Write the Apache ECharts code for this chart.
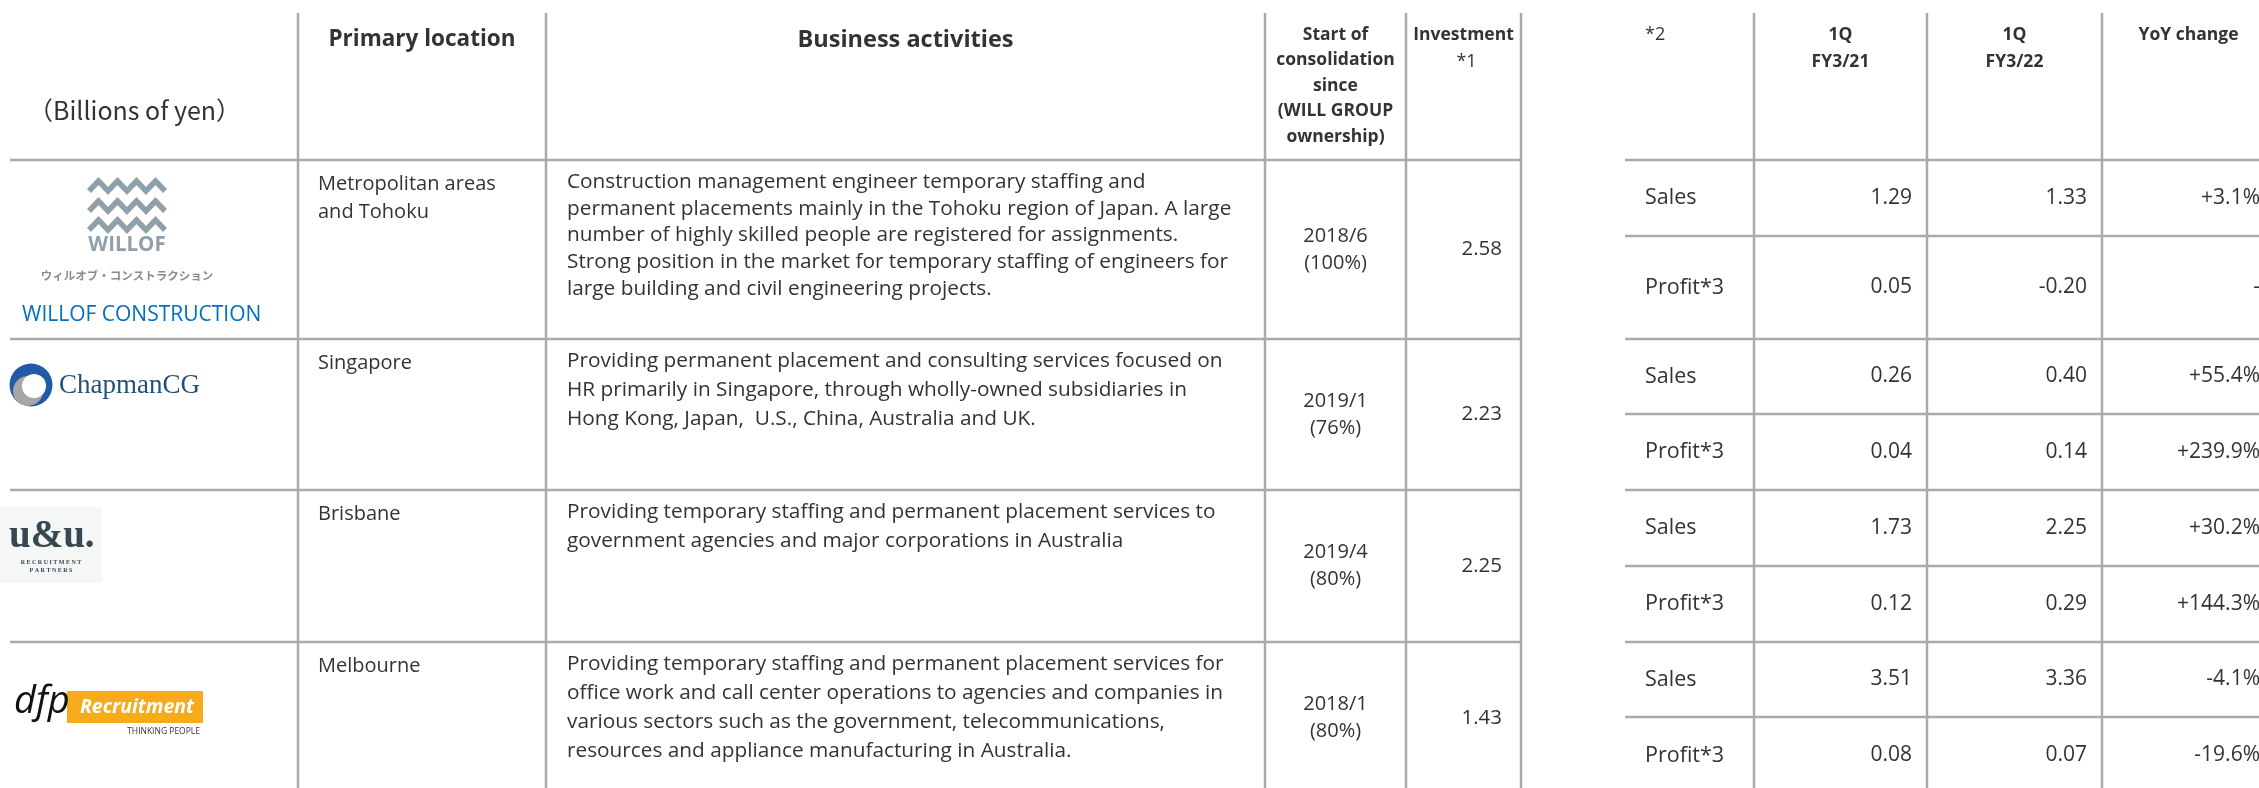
<!DOCTYPE html>
<html>
<head>
<meta charset="utf-8">
<script src="https://cdn.jsdelivr.net/npm/echarts@6/dist/echarts.min.js"></script>
<style>
  html, body { margin: 0; padding: 0; background: #fff; }
  #main { width: 2259px; height: 788px; }
</style>
</head>
<body>
<div id="main"></div>
<script>
// ---- table content ----
const companies = ['WILLOF CONSTRUCTION', 'ChapmanCG', 'u&u', 'dfp'];
const locations = ['Metropolitan areas\nand Tohoku', 'Singapore', 'Brisbane', 'Melbourne'];
const activities = [
  'Construction management engineer temporary staffing and\npermanent placements mainly in the Tohoku region of Japan. A large\nnumber of highly skilled people are registered for assignments.\nStrong position in the market for temporary staffing of engineers for\nlarge building and civil engineering projects.',
  'Providing permanent placement and consulting services focused on\nHR primarily in Singapore, through wholly-owned subsidiaries in\nHong Kong, Japan,  U.S., China, Australia and UK.',
  'Providing temporary staffing and permanent placement services to\ngovernment agencies and major corporations in Australia',
  'Providing temporary staffing and permanent placement services for\noffice work and call center operations to agencies and companies in\nvarious sectors such as the government, telecommunications,\nresources and appliance manufacturing in Australia.'
];
const consolidationStart = ['2018/6', '2019/1', '2019/4', '2018/1'];
const ownership = ['100%', '76%', '80%', '80%'];
const investment = [2.58, 2.23, 2.25, 1.43];

const leftHeaders = ['（Billions of yen）', 'Primary location', 'Business activities',
  'Start of\nconsolidation\nsince\n(WILL GROUP\nownership)', 'Investment'];
const investmentNote = '*1';
const rightHeaders = ['*2', '1Q\nFY3/21', '1Q\nFY3/22', 'YoY change'];

const metrics = ['Sales', 'Profit*3'];
const fy21 = [1.29, 0.05, 0.26, 0.04, 1.73, 0.12, 3.51, 0.08];
const fy22 = [1.33, -0.20, 0.40, 0.14, 2.25, 0.29, 3.36, 0.07];
const yoy = ['+3.1%', '-', '+55.4%', '+239.9%', '+30.2%', '+144.3%', '-4.1%', '-19.6%'];

// ---- layout (px on the hidden value axes) ----
const colEdges = [10, 298, 546, 1265, 1406, 1521];
const rowEdges = [13, 160, 339, 490, 642, 794];
const rColEdges = [1625, 1754, 1927, 2102, 2275];
const rRowEdges = [13, 160, 236, 339, 414, 490, 566, 642, 717, 794];
const activityLineHeight = [26.7, 29, 29, 29];

const FONT = '"Open Sans", "Noto Sans", sans-serif';
const TEXT = '#333333';
const RULE = '#aaaaaa';

function txt(p, text, size, o) {
  o = o || {};
  return {
    type: 'text',
    silent: true,
    style: {
      text: text,
      x: p[0],
      y: p[1],
      fill: o.fill || TEXT,
      fontSize: size,
      fontFamily: o.family || FONT,
      fontWeight: o.weight || 'normal',
      fontStyle: o.style || 'normal',
      align: o.align || 'left',
      verticalAlign: o.va || 'middle',
      lineHeight: o.lh || size * 1.3
    }
  };
}

function rule(a, b) {
  return {
    type: 'line', silent: true,
    shape: { x1: a[0], y1: a[1], x2: b[0], y2: b[1] },
    style: { stroke: RULE, lineWidth: 2.5 }
  };
}

// logos, drawn relative to the top-left of the first cell of each row
function logo(i, P) {
  const out = [];
  if (i === 0) {
    const waveColor = '#8fa0ab';
    [26, 46, 65].forEach(function (cy) {
      const pts = [];
      for (let k = 0; k <= 8; k++) {
        pts.push(P(79 + k * 9.5, cy + (k % 2 === 0 ? 5 : -5)));
      }
      out.push({ type: 'polyline', silent: true, shape: { points: pts },
        style: { stroke: waveColor, lineWidth: 5.5, fill: null } });
    });
    out.push(txt(P(117, 85), 'WILLOF', 20.5, { weight: 'bold', align: 'center', fill: waveColor }));
    out.push(txt(P(117, 116), 'ウィルオブ・コンストラクション', 11.5,
      { family: '"Noto Sans CJK JP", sans-serif', weight: 'bold', align: 'center', fill: '#8c8c8c' }));
    out.push(txt(P(12, 155), companies[0], 21, { fill: '#0070c0' }));
  } else if (i === 1) {
    const c = P(21, 46), g = P(18, 52), w = P(24, 47);
    out.push({ type: 'circle', silent: true, shape: { cx: c[0], cy: c[1], r: 21.5 }, style: { fill: '#1f5ba6' } });
    out.push({ type: 'circle', silent: true, shape: { cx: g[0], cy: g[1], r: 15 }, style: { fill: '#a6a6a6' } });
    out.push({ type: 'circle', silent: true, shape: { cx: w[0], cy: w[1], r: 12 }, style: { fill: '#ffffff' } });
    out.push(txt(P(49, 47), companies[1], 27, { family: '"Liberation Serif", serif', fill: '#24507a' }));
  } else if (i === 2) {
    const a = P(-10, 17), b = P(92, 93);
    out.push({ type: 'rect', silent: true, shape: { x: a[0], y: a[1], width: b[0] - a[0], height: b[1] - a[1] },
      style: { fill: '#f5f6f6' } });
    out.push(txt(P(-1, 47), 'u&u.', 39, { family: '"Liberation Serif", serif', weight: 'bold', fill: '#37474f' }));
    out.push(txt(P(41, 72), 'R E C R U I T M E N T', 6, { family: '"Liberation Serif", serif', weight: 'bold', align: 'center', fill: '#37474f' }));
    out.push(txt(P(41, 80), 'P A R T N E R S', 6, { family: '"Liberation Serif", serif', weight: 'bold', align: 'center', fill: '#37474f' }));
  } else {
    const a = P(57, 49), b = P(193, 81);
    out.push({ type: 'rect', silent: true, shape: { x: a[0], y: a[1], width: b[0] - a[0], height: b[1] - a[1] },
      style: { fill: '#f6ab1b' } });
    out.push(txt(P(4, 60), companies[3], 38, { style: 'italic', fill: '#111111' }));
    out.push(txt(P(127, 65), 'Recruitment', 19.5, { weight: 'bold', style: 'italic', align: 'center', fill: '#ffffff' }));
    out.push(txt(P(190, 90), 'THINKING PEOPLE', 8.5, { align: 'right', fill: '#333333' }));
  }
  return out;
}

const chart = echarts.init(document.getElementById('main'), null, { renderer: 'canvas' });

const option = {
  animation: false,
  backgroundColor: '#ffffff',
  grid: { left: 0, right: 0, top: 0, bottom: 0 },
  xAxis: { type: 'value', min: 0, max: 2259, show: false },
  yAxis: { type: 'value', min: 0, max: 788, inverse: true, show: false },
  series: [
    {
      // rules and header row
      type: 'custom',
      name: 'frame',
      clip: false,
      data: [[0, 0]],
      renderItem: function (params, api) {
        const P = function (x, y) { return api.coord([x, y]); };
        const kids = [];
        for (let r = 1; r < rowEdges.length - 1; r++) {
          kids.push(rule(P(colEdges[0], rowEdges[r]), P(colEdges[5], rowEdges[r])));
        }
        for (let c = 1; c < colEdges.length; c++) {
          kids.push(rule(P(colEdges[c], rowEdges[0]), P(colEdges[c], 788)));
        }
        for (let r = 1; r < rRowEdges.length - 1; r++) {
          kids.push(rule(P(rColEdges[0], rRowEdges[r]), P(rColEdges[4], rRowEdges[r])));
        }
        for (let c = 1; c < rColEdges.length; c++) {
          kids.push(rule(P(rColEdges[c], rRowEdges[0]), P(rColEdges[c], 788)));
        }
        const mid = function (e, c) { return (e[c] + e[c + 1]) / 2; };
        kids.push(txt(P(28, 110), leftHeaders[0], 25, { family: '"Noto Sans CJK JP", sans-serif' }));
        kids.push(txt(P(mid(colEdges, 1), 40), leftHeaders[1], 22.5, { weight: 'bold', align: 'center' }));
        kids.push(txt(P(mid(colEdges, 2), 40), leftHeaders[2], 23.5, { weight: 'bold', align: 'center' }));
        kids.push(txt(P(mid(colEdges, 3), 22), leftHeaders[3], 17.5, { weight: 'bold', align: 'center', va: 'top', lh: 25.5 }));
        kids.push(txt(P(mid(colEdges, 4), 35), leftHeaders[4], 17.5, { weight: 'bold', align: 'center' }));
        kids.push(txt(P(mid(colEdges, 4) + 3, 62), investmentNote, 18, { align: 'center' }));
        kids.push(txt(P(rColEdges[0] + 20, 35), rightHeaders[0], 18));
        kids.push(txt(P(mid(rColEdges, 1), 22), rightHeaders[1], 17.5, { weight: 'bold', align: 'center', va: 'top', lh: 26.5 }));
        kids.push(txt(P(mid(rColEdges, 2), 22), rightHeaders[2], 17.5, { weight: 'bold', align: 'center', va: 'top', lh: 26.5 }));
        kids.push(txt(P(mid(rColEdges, 3), 35), rightHeaders[3], 17.5, { weight: 'bold', align: 'center' }));
        return { type: 'group', children: kids };
      }
    },
    {
      // one item per company on the left table
      type: 'custom',
      name: 'companies',
      clip: false,
      data: companies.map(function (c, i) { return [i, investment[i]]; }),
      renderItem: function (params, api) {
        const i = params.dataIndex;
        const P = function (x, y) { return api.coord([x, y]); };
        const top = rowEdges[i + 1], bottom = rowEdges[i + 2];
        const cy = (top + bottom) / 2;
        const lh = activityLineHeight[i];
        const kids = logo(i, function (dx, dy) { return P(colEdges[0] + dx, top + dy); });
        kids.push(txt(P(colEdges[1] + 20, top + 24 - 14.2), locations[i], 20, { va: 'top', lh: 28.4 }));
        kids.push(txt(P(colEdges[2] + 21, top + 22 - lh / 2), activities[i], 20.8, { va: 'top', lh: lh }));
        kids.push(txt(P((colEdges[3] + colEdges[4]) / 2, cy), consolidationStart[i] + '\n(' + ownership[i] + ')', 20,
          { align: 'center', lh: 27 }));
        kids.push(txt(P(colEdges[5] - 19, cy), api.value(1).toFixed(2), 20.5, { align: 'right' }));
        return { type: 'group', children: kids };
      }
    },
    {
      // one item per metric row on the right table
      type: 'custom',
      name: 'results',
      clip: false,
      data: fy21.map(function (v, i) { return [v, fy22[i]]; }),
      renderItem: function (params, api) {
        const i = params.dataIndex;
        const P = function (x, y) { return api.coord([x, y]); };
        const cy = (rRowEdges[i + 1] + rRowEdges[i + 2]) / 2;
        return {
          type: 'group',
          children: [
            txt(P(rColEdges[0] + 20, cy), metrics[i % 2], 21.5),
            txt(P(rColEdges[2] - 15, cy), api.value(0).toFixed(2), 21),
            txt(P(rColEdges[3] - 15, cy), api.value(1).toFixed(2), 21),
            txt(P(rColEdges[4] - 15, cy), yoy[i], 21)
          ].map(function (t, k) { if (k > 0) t.style.align = 'right'; return t; })
        };
      }
    }
  ]
};

chart.setOption(option);
</script>
</body>
</html>
